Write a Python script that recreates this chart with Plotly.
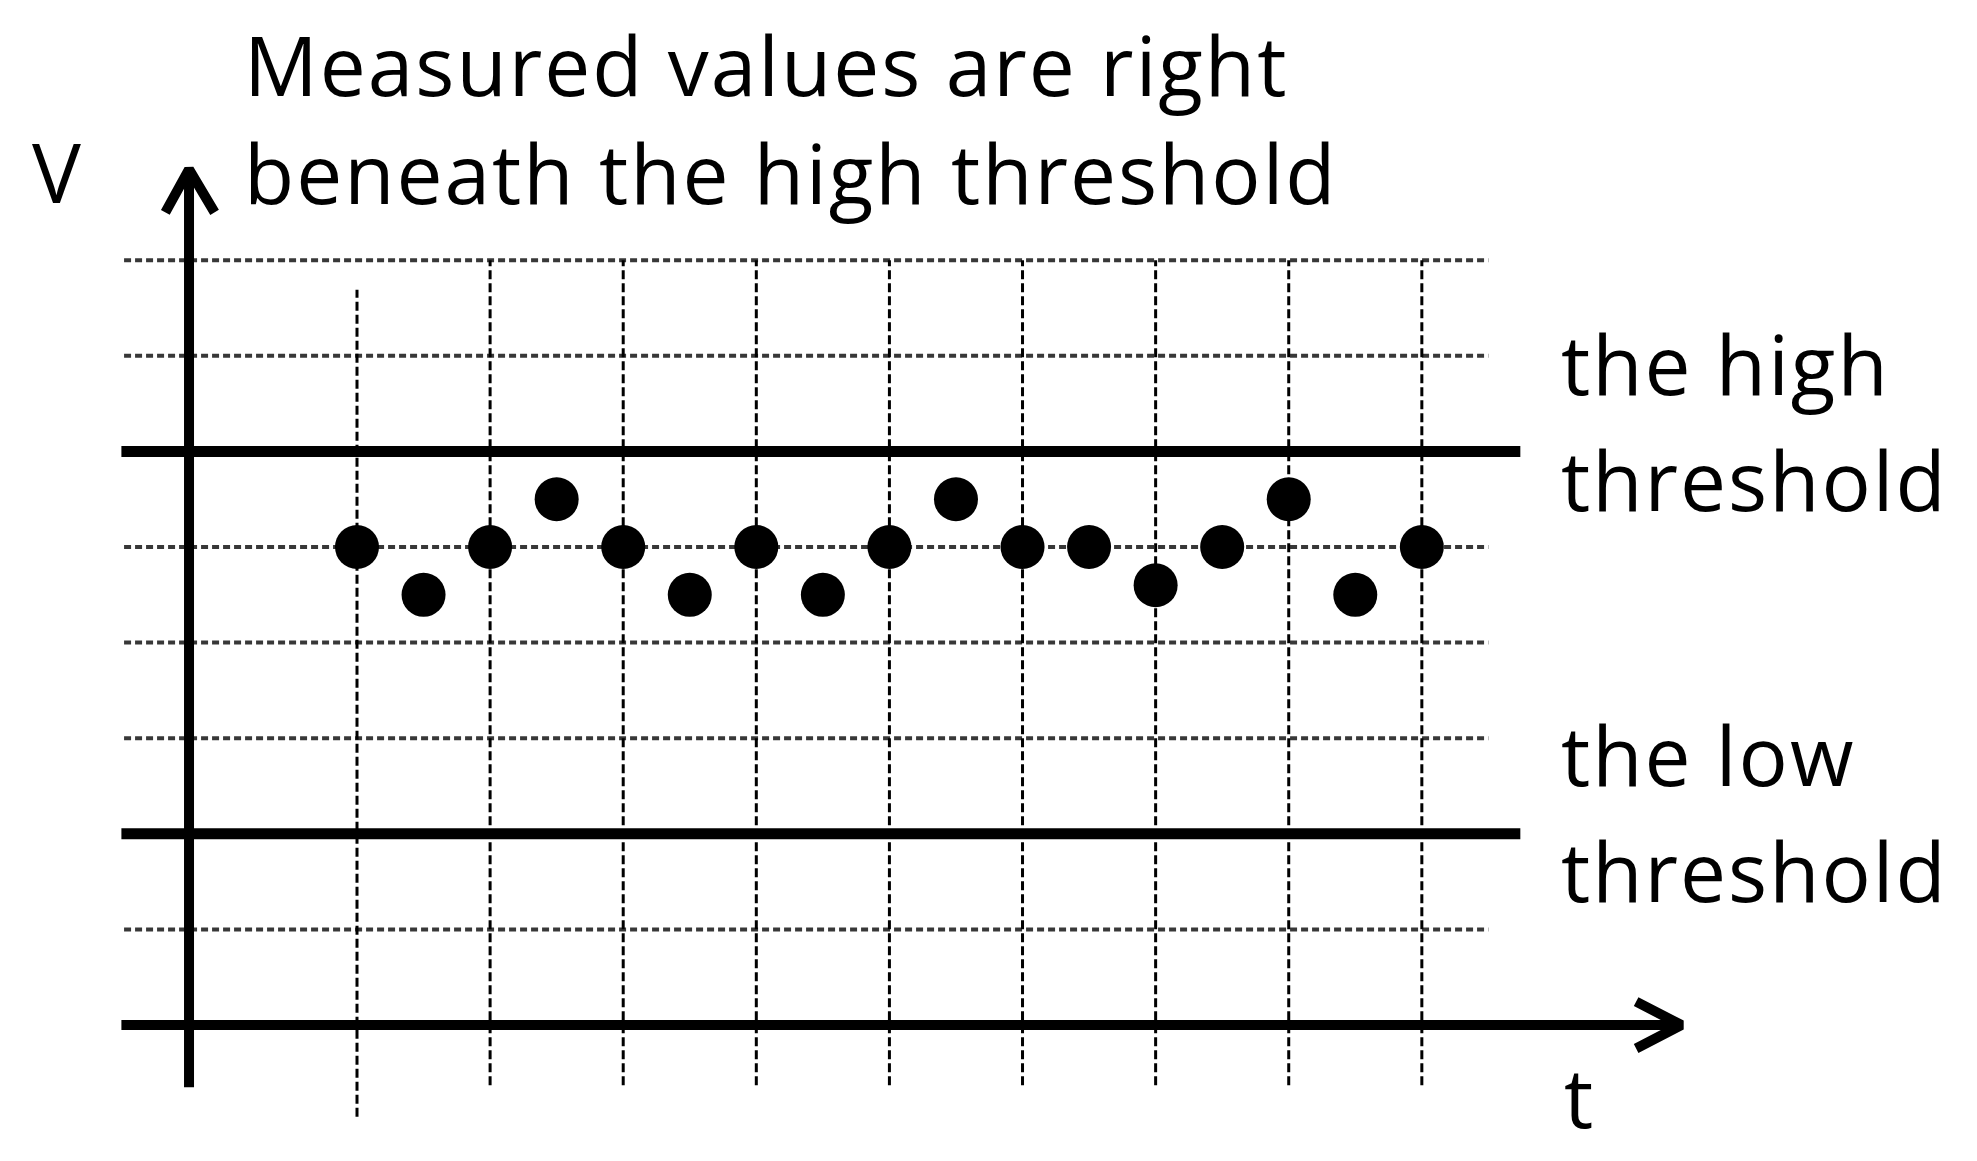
import plotly.graph_objects as go

# measured samples (t in grid steps, V in grid steps above the t axis)
t_values = [1, 1.5, 2, 2.5, 3, 3.5, 4, 4.5, 5, 5.5, 6, 6.5, 7, 7.5, 8, 8.5, 9]
v_values = [5, 4.5, 5, 5.5, 5, 4.5, 5, 4.5, 5, 5.5, 5, 5, 4.6, 5, 5.5, 4.5, 5]

grid_levels = [1, 3, 4, 5, 7, 8]
threshold_levels = [2, 6]
time_gridlines = [1, 2, 3, 4, 5, 6, 7, 8, 9]

title_lines = ["Measured values are right", "beneath the high threshold"]
high_label = ["the high", "threshold"]
low_label = ["the low", "threshold"]

W, H = 1977, 1161
OFF = 8  # page body margin
FONT = "Open Sans"
FS = 82

fig = go.Figure()

# dotted horizontal grid
for lv in grid_levels:
    fig.add_trace(go.Scatter(x=[-0.75, 9.5], y=[lv, lv], mode="lines",
                             line=dict(color="#383838", width=4, dash="7px,4px"),
                             hoverinfo="skip"))

# dashed vertical grid (first one is shifted down a bit)
for i, t in enumerate(time_gridlines):
    y0, y1 = (-0.96, 7.69) if i == 0 else (-0.63, 8)
    fig.add_trace(go.Scatter(x=[t, t], y=[y0, y1], mode="lines",
                             line=dict(color="black", width=3, dash="9px,4px"),
                             hoverinfo="skip"))

# thresholds
for lv in threshold_levels:
    fig.add_trace(go.Scatter(x=[-0.77, 9.74], y=[lv, lv], mode="lines",
                             line=dict(color="black", width=11), hoverinfo="skip"))

# axes with arrow heads
fig.add_trace(go.Scatter(x=[-0.77, 10.93], y=[0, 0], mode="lines",
                         line=dict(color="black", width=10), hoverinfo="skip"))
fig.add_trace(go.Scatter(x=[10.61, 10.95, 10.61], y=[0.245, 0, -0.245], mode="lines",
                         line=dict(color="black", width=10), hoverinfo="skip"))
fig.add_trace(go.Scatter(x=[-0.262, -0.262], y=[-0.65, 8.93], mode="lines",
                         line=dict(color="black", width=10), hoverinfo="skip"))
fig.add_trace(go.Scatter(x=[-0.44, -0.262, -0.07], y=[8.5, 8.95, 8.5], mode="lines",
                         line=dict(color="black", width=10), hoverinfo="skip"))

# measured values
fig.add_trace(go.Scatter(x=t_values, y=v_values, mode="markers",
                         marker=dict(color="black", size=44, symbol="circle"),
                         hoverinfo="skip"))


def label(text, px, py):
    fig.add_annotation(text='<span style="letter-spacing:2px">' + text + "</span>",
                       x=(px - OFF) / W, y=1 - (py - OFF) / H,
                       xref="paper", yref="paper",
                       xanchor="left", yanchor="middle", showarrow=False,
                       font=dict(family=FONT, size=FS, color="black"))


label(title_lines[0], 242, 64)
label(title_lines[1], 242, 172)
label("V", 30, 171)
label(high_label[0], 1559, 363)
label(high_label[1], 1559, 479)
label(low_label[0], 1559, 754)
label(low_label[1], 1559, 870)
label("t", 1562, 1096)

fig.update_layout(
    width=W, height=H, autosize=False,
    margin=dict(l=0, r=0, t=0, b=0),
    paper_bgcolor="white", plot_bgcolor="white",
    showlegend=False,
    xaxis=dict(range=[-1.622, 13.231], visible=False, fixedrange=True),
    yaxis=dict(range=[-1.506, 10.638], visible=False, fixedrange=True),
)

fig.write_html("out.html", config=dict(displayModeBar=False))
